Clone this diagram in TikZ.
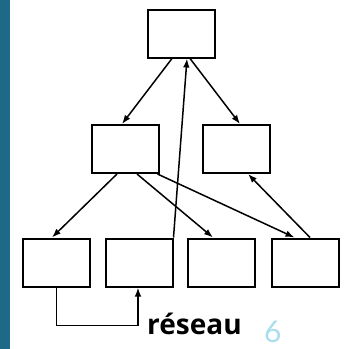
\documentclass[tikz,border=0pt]{standalone}
\usepackage{fontspec}
\usepackage{tikz}
\usetikzlibrary{arrows.meta}
\usetikzlibrary{positioning}
\newfontfamily\reseaufont{Open Sans}
\newfontfamily\pagefont{Lato}
\definecolor{slideblue}{RGB}{30,104,136}
\definecolor{pagecyan}{RGB}{170,222,238}
\begin{document}
\begin{tikzpicture}[x=1pt,y=-1pt,box/.style={draw,rectangle,line width=2pt,minimum width=67pt,minimum height=48pt,inner sep=0pt},link/.style={line width=1.5pt,-{Latex[length=9pt,width=6.5pt]}}]
  \useasboundingbox (0,0) rectangle (348,349);
  \fill[white] (0,0) rectangle (348,349);
  \fill[slideblue] (0,0) rectangle (10,349);

  \node[box] (top) at (181,33.5){};
  \node[box] (ml) at (125,149){};
  \node[box] (mr) at (236.5,149){};
  \node[box] (b1) at (56.5,262.5){};
  \node[box] (b2) at (139,262.5){};
  \node[box] (b3) at (221,262.5){};
  \node[box] (b4) at (305.5,262.5){};

  \node[anchor=base west,inner sep=0pt,font=\reseaufont\bfseries\fontsize{28}{30}\selectfont] (res) at (147,334){réseau};
  \node[anchor=base west,inner sep=0pt,text=pagecyan,font=\pagefont\fontsize{30}{32}\selectfont] (num) at (264,342){6};

  \draw[link]([xshift=-9pt]top.south)--([xshift=-3pt]ml.north);
  \draw[link]([xshift=9pt]top.south)--([xshift=3.5pt]mr.north);
  \draw[link](b2.north east)--([xshift=6pt]top.south);
  \draw[link]([xshift=-8pt]ml.south)--([xshift=-4.5pt]b1.north);
  \draw[link]([xshift=12pt]ml.south)--([xshift=-8pt]b3.north);
  \draw[link]([xshift=-2pt]ml.south east)--([xshift=-11pt]b4.north);
  \draw[link]([xshift=4.5pt]b4.north)--([xshift=11.5pt]mr.south);
  \draw[link](b1.south)--++(0,38)-|([xshift=-1pt]b2.south);
\end{tikzpicture}
\end{document}
